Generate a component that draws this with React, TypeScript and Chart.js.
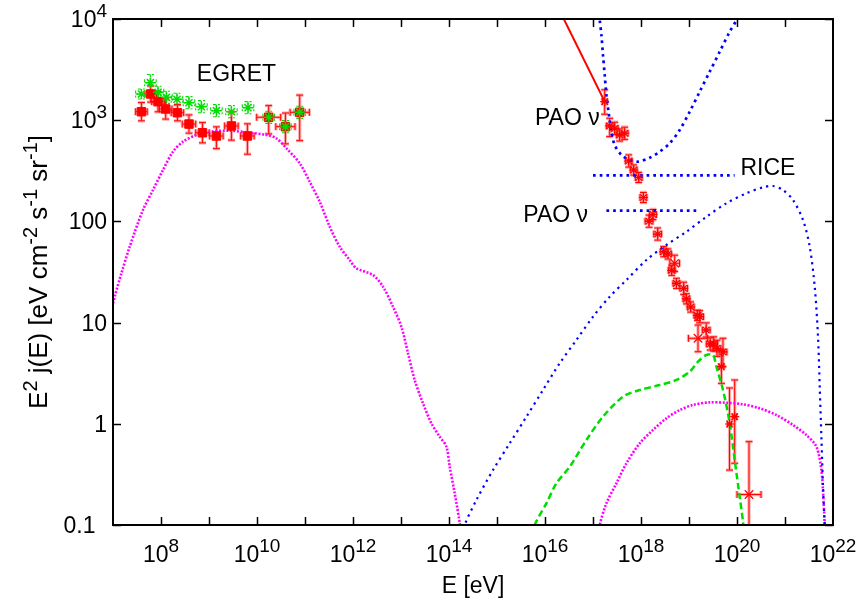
import React, { useEffect, useRef } from "react";
import { Chart, registerables } from "chart.js";

Chart.register(...registerables);

const FONT = '"Liberation Sans", Arial, Helvetica, sans-serif';
const pow10 = (v: number) => Math.pow(10, v);

// All values below are log10(E / eV) and log10(E^2 j(E) / eV cm^-2 s^-1 sr^-1)

// Magenta dotted: low-energy photon cascade curve
const magentaLowLogE = [7.0, 7.035, 7.175, 7.348, 7.625, 7.833, 8.042, 8.25, 8.458, 8.738, 9.015, 9.431, 9.848, 10.196, 10.404, 10.613, 10.89, 11.098, 11.306, 11.515, 11.723, 11.931, 12.069, 12.417, 12.625, 12.833, 13.008, 13.146, 13.285, 13.458, 13.633, 13.806, 13.946, 14.015, 14.119, 14.223, 14.24];
const magentaLowLogF = [1.19, 1.256, 1.487, 1.75, 2.113, 2.31, 2.508, 2.689, 2.788, 2.854, 2.886, 2.896, 2.876, 2.854, 2.821, 2.722, 2.574, 2.392, 2.195, 1.948, 1.75, 1.619, 1.537, 1.47, 1.355, 1.157, 0.96, 0.697, 0.433, 0.203, 0.005, -0.127, -0.226, -0.424, -0.687, -0.983, -1.1];

// Magenta dotted: high-energy curve
const magentaHighLogE = [17.12, 17.14, 17.279, 17.488, 17.696, 17.973, 18.25, 18.529, 18.806, 19.083, 19.431, 19.779, 20.125, 20.473, 20.821, 21.167, 21.446, 21.654, 21.758, 21.806, 21.827, 21.835];
const magentaHighLogF = [-1.1, -1.0, -0.786, -0.588, -0.39, -0.193, -0.061, 0.054, 0.136, 0.186, 0.212, 0.208, 0.193, 0.153, 0.087, -0.012, -0.111, -0.226, -0.457, -0.786, -1.0, -1.1];

// Blue dotted: neutrino flux curve
const blueLogE = [14.3, 14.327, 14.571, 14.917, 15.265, 15.613, 15.958, 16.306, 16.654, 17.0, 17.348, 17.696, 18.113, 18.529, 18.946, 19.363, 19.779, 20.196, 20.542, 20.75, 20.958, 21.167, 21.375, 21.515, 21.619, 21.688, 21.723, 21.758, 21.792, 21.827, 21.835];
const blueLogF = [-1.1, -1.0, -0.753, -0.457, -0.193, 0.07, 0.334, 0.598, 0.828, 1.058, 1.256, 1.421, 1.619, 1.767, 1.898, 2.046, 2.179, 2.278, 2.337, 2.35, 2.31, 2.211, 2.014, 1.75, 1.355, 0.861, 0.367, -0.127, -0.621, -1.0, -1.1];

// Blue dotted: PAO nu limit (U shape)
const paoULogE = [17.13, 17.14, 17.175, 17.208, 17.244, 17.279, 17.333, 17.383, 17.452, 17.592, 17.765, 17.938, 18.181, 18.39, 18.598, 18.806, 19.015, 19.223, 19.431, 19.64, 19.848, 19.988, 20.01];
const paoULogF = [4.05, 3.99, 3.842, 3.644, 3.447, 3.249, 3.051, 2.886, 2.755, 2.656, 2.607, 2.59, 2.629, 2.689, 2.772, 2.903, 3.084, 3.282, 3.479, 3.677, 3.875, 3.99, 4.05];

// Blue dotted horizontal limits
const riceLogE = [17.0, 19.95];
const riceLogF = [2.455, 2.455];
const paoLowLogE = [17.28, 19.21];
const paoLowLogF = [2.106, 2.106];

// Green dashed: cosmic-ray model curve
const greenLogE = [15.75, 15.785, 16.029, 16.238, 16.515, 16.863, 17.208, 17.625, 17.973, 18.39, 18.738, 19.015, 19.188, 19.363, 19.5, 19.571, 19.708, 19.848, 19.952, 20.056, 20.125, 20.14];
const greenLogF = [-1.1, -1.0, -0.786, -0.588, -0.424, -0.16, 0.07, 0.268, 0.334, 0.383, 0.433, 0.515, 0.614, 0.68, 0.68, 0.564, 0.334, 0.005, -0.358, -0.72, -0.967, -1.1];

// Red solid line
const redLineLogE = [16.35, 17.244];
const redLineLogF = [4.04, 3.183];

// EGRET (green asterisks)
const egretGreenLogE = [7.592, 7.779, 7.938, 8.113, 8.333, 8.583, 8.842, 9.154, 9.467, 9.813, 10.244, 10.592, 10.89];
const egretGreenLogF = [3.259, 3.371, 3.276, 3.226, 3.207, 3.173, 3.133, 3.094, 3.084, 3.124, 3.029, 2.936, 3.078];
const egretGreenDx = [0.12, 0.12, 0.12, 0.12, 0.12, 0.12, 0.12, 0.12, 0.12, 0.12, 0.12, 0.12, 0.12];
const egretGreenDy = [0.05, 0.08, 0.06, 0.06, 0.06, 0.06, 0.06, 0.06, 0.06, 0.06, 0.06, 0.06, 0.06];

// EGRET (red squares)
const egretRedLogE = [7.592, 7.785, 7.938, 8.098, 8.342, 8.583, 8.863, 9.154, 9.467, 9.8, 10.244, 10.592, 10.89];
const egretRedLogF = [3.084, 3.259, 3.183, 3.111, 3.074, 2.962, 2.876, 2.844, 2.943, 2.844, 3.029, 2.936, 3.078];
const egretRedDx = [0.12, 0.12, 0.13, 0.13, 0.13, 0.14, 0.14, 0.14, 0.14, 0.14, 0.25, 0.2, 0.2];
const egretRedUp = [0.09, 0.08, 0.1, 0.1, 0.08, 0.09, 0.1, 0.09, 0.14, 0.12, 0.115, 0.135, 0.17];
const egretRedDown = [0.09, 0.08, 0.1, 0.1, 0.08, 0.09, 0.1, 0.125, 0.14, 0.18, 0.165, 0.17, 0.28];

// UHE cosmic-ray data (red asterisks)
const crLogE = [17.244, 17.348, 17.452, 17.556, 17.66, 17.744, 17.848, 17.952, 18.05, 18.25, 18.167, 18.348, 18.473, 18.563, 18.64, 18.738, 18.89, 18.946, 19.035, 19.175, 19.223, 19.358, 19.442, 19.515, 19.583, 19.708, 19.675, 19.844, 19.952];
const crLogF = [3.183, 2.943, 2.92, 2.854, 2.871, 2.597, 2.508, 2.434, 2.236, 2.068, 2.002, 1.875, 1.701, 1.678, 1.517, 1.388, 1.339, 1.235, 1.154, 1.072, 1.058, 0.927, 0.789, 0.789, 0.746, 0.71, 0.564, -0.002, 0.07];
const crDx = [0.05, 0.07, 0.07, 0.07, 0.07, 0.07, 0.07, 0.07, 0.07, 0.07, 0.08, 0.08, 0.07, 0.07, 0.07, 0.07, 0.08, 0.07, 0.07, 0.07, 0.08, 0.08, 0.08, 0.08, 0.08, 0.08, 0.05, 0.04, 0.04];
const crUp = [0.117, 0.076, 0.06, 0.06, 0.06, 0.06, 0.05, 0.05, 0.05, 0.05, 0.06, 0.06, 0.05, 0.05, 0.05, 0.05, 0.06, 0.05, 0.05, 0.05, 0.06, 0.07, 0.06, 0.07, 0.08, 0.135, 0.165, 0.356, 0.363];
const crDown = [0.124, 0.105, 0.06, 0.06, 0.06, 0.06, 0.05, 0.05, 0.05, 0.05, 0.06, 0.06, 0.05, 0.05, 0.05, 0.05, 0.06, 0.05, 0.05, 0.05, 0.06, 0.07, 0.06, 0.07, 0.08, 0.146, 0.164, 0.455, 0.46];

// UHE cosmic-ray data with wide bins
const crWideLogE = [18.702, 19.188, 20.25];
const crWideLogF = [1.586, 0.845, -0.699];
const crWideDx = [0.1, 0.2, 0.25];
const crWideUp = [0.08, 0.131, 0.522];
const crWideDown = [0.08, 0.133, 0.45];

// Axis ticks
const xTickDecades = [8, 9, 10, 11, 12, 13, 14, 15, 16, 17, 18, 19, 20, 21];
const xLabelExps = ["8", "10", "12", "14", "16", "18", "20", "22"];
const yTickValues = [0.1, 1, 10, 100, 1000, 10000];
const yTickMain = ["0.1\u2002", "1", "10", "100", "10", "10"];
const yTickSup = ["", "", "", "", "3", "4"];
const xTitle = "E [eV]";
const yTitleParts: [string, boolean][] = [["E", false], ["2", true], [" j(E) [eV cm", false], ["-2", true], [" s", false], ["-1", true], [" sr", false], ["-1", true], ["]", false]];

// Annotations (log10 positions)
const noteText = ["EGRET", "PAO \u03bd", "PAO \u03bd", "RICE"];
const noteLogE = [9.571, 17.14, 16.896, 20.071];
const noteLogF = [3.39, 2.953, 1.997, 2.458];
const noteAlign = ["center", "right", "right", "left"];

const RED = "#ff0000";
const GREEN = "#00dd00";
const BLUE = "#0000ff";
const MAGENTA = "#ff00ff";

const pts = (es: number[], fs: number[]) => es.map((e, i) => ({ x: pow10(e), y: pow10(fs[i]) }));

function drawRich(ctx: CanvasRenderingContext2D, parts: [string, boolean][], x: number, y: number, align: string, size: number, supSize: number, rise: number) {
  let w = 0;
  for (const [t, s] of parts) {
    ctx.font = `${s ? supSize : size}px ${FONT}`;
    w += ctx.measureText(t).width;
  }
  let cx = align === "center" ? x - w / 2 : align === "right" ? x - w : x;
  ctx.textAlign = "left";
  ctx.textBaseline = "alphabetic";
  for (const [t, s] of parts) {
    ctx.font = `${s ? supSize : size}px ${FONT}`;
    ctx.fillText(t, cx, s ? y - rise : y);
    cx += ctx.measureText(t).width;
  }
}

const errorBarPlugin = {
  id: "errorBars",
  beforeDatasetsDraw(chart: any) {
    const { ctx, chartArea, scales } = chart;
    const xs = scales.x;
    const ys = scales.y;
    ctx.save();
    ctx.beginPath();
    ctx.rect(chartArea.left, chartArea.top, chartArea.right - chartArea.left, chartArea.bottom - chartArea.top);
    ctx.clip();
    chart.data.datasets.forEach((ds: any) => {
      const eb = ds.errorBars;
      if (!eb) return;
      const passes = eb.halo ? [{ c: eb.halo, w: 3.2 }, { c: eb.color, w: 1 }] : [{ c: eb.color, w: 1.1 }];
      passes.forEach((p: any) => {
        ctx.strokeStyle = p.c;
        ctx.lineWidth = p.w;
        ctx.setLineDash(eb.dash || []);
        const cap = 3.5;
        for (let i = 0; i < eb.e.length; i++) {
          const cx = xs.getPixelForValue(pow10(eb.e[i]));
          const cy = ys.getPixelForValue(pow10(eb.f[i]));
          const xl = xs.getPixelForValue(pow10(eb.e[i] - eb.dx[i]));
          const xr = xs.getPixelForValue(pow10(eb.e[i] + eb.dx[i]));
          const yt = ys.getPixelForValue(pow10(eb.f[i] + eb.up[i]));
          const yb = ys.getPixelForValue(pow10(eb.f[i] - eb.down[i]));
          ctx.beginPath();
          ctx.moveTo(xl, cy); ctx.lineTo(xr, cy);
          ctx.moveTo(cx, yt); ctx.lineTo(cx, yb);
          ctx.moveTo(cx - cap, yt); ctx.lineTo(cx + cap, yt);
          ctx.moveTo(cx - cap, yb); ctx.lineTo(cx + cap, yb);
          ctx.moveTo(xl, cy - cap); ctx.lineTo(xl, cy + cap);
          ctx.moveTo(xr, cy - cap); ctx.lineTo(xr, cy + cap);
          ctx.stroke();
        }
      });
    });
    ctx.restore();
  },
};

const framePlugin = {
  id: "frame",
  afterDraw(chart: any) {
    const { ctx, chartArea, scales } = chart;
    const xs = scales.x;
    const ys = scales.y;
    const { left, right, top, bottom } = chartArea;
    ctx.save();
    ctx.setLineDash([]);
    ctx.strokeStyle = "#000";
    ctx.fillStyle = "#000";
    // ticks
    ctx.lineWidth = 1.5;
    ctx.beginPath();
    const tl = 8;
    xTickDecades.forEach((d) => {
      const px = Math.round(xs.getPixelForValue(pow10(d))) + 0.5;
      ctx.moveTo(px, bottom); ctx.lineTo(px, bottom - tl);
      ctx.moveTo(px, top); ctx.lineTo(px, top + tl);
    });
    yTickValues.forEach((v) => {
      const py = Math.round(ys.getPixelForValue(v)) + 0.5;
      ctx.moveTo(left, py); ctx.lineTo(left + tl, py);
      ctx.moveTo(right, py); ctx.lineTo(right - tl, py);
    });
    ctx.stroke();
    // border
    ctx.lineWidth = 2;
    ctx.strokeRect(left, top, right - left, bottom - top);
    // x tick labels
    xLabelExps.forEach((ex) => {
      const px = xs.getPixelForValue(pow10(Number(ex)));
      drawRich(ctx, [["10", false], [ex, true]], px, bottom + 37, "center", 23, 19, 10);
    });
    // y tick labels
    yTickValues.forEach((v, i) => {
      const py = ys.getPixelForValue(v);
      const parts: [string, boolean][] = [[yTickMain[i], false]];
      if (yTickSup[i]) parts.push([yTickSup[i], true]);
      drawRich(ctx, parts, left - 6, py + 8, "right", 23, 19, 10);
    });
    // titles
    drawRich(ctx, [[xTitle, false]], (left + right) / 2, 593, "center", 23, 19, 10);
    ctx.save();
    ctx.translate(47, (top + bottom) / 2);
    ctx.rotate(-Math.PI / 2);
    drawRich(ctx, yTitleParts, 0, 0, "center", 26, 20, 10);
    ctx.restore();
    // annotations
    noteText.forEach((t, i) => {
      const px = xs.getPixelForValue(pow10(noteLogE[i]));
      const py = ys.getPixelForValue(pow10(noteLogF[i]));
      drawRich(ctx, [[t, false]], px, py, noteAlign[i], 23, 19, 10);
    });
    ctx.restore();
  },
};

export default function App() {
  const ref = useRef<HTMLCanvasElement | null>(null);
  useEffect(() => {
    if (!ref.current) return;
    const curve = (data: any, color: string, dash: number[], width: number, tension = 0.3) => ({
      data,
      showLine: true,
      borderColor: color,
      borderWidth: width,
      borderDash: dash,
      pointRadius: 0,
      tension,
      fill: false,
    });
    const chart = new Chart(ref.current, {
      type: "scatter",
      data: {
        datasets: [
          {
            label: "EGRET",
            data: pts(egretGreenLogE, egretGreenLogF),
            showLine: false,
            pointStyle: "star",
            pointRadius: 5,
            borderColor: GREEN,
            borderWidth: 1.5,
            errorBars: { e: egretGreenLogE, f: egretGreenLogF, dx: egretGreenDx, up: egretGreenDy, down: egretGreenDy, color: GREEN, dash: [3, 2] },
          } as any,
          {
            label: "EGRET red",
            data: pts(egretRedLogE, egretRedLogF),
            showLine: false,
            pointStyle: "rect",
            pointRadius: 6,
            backgroundColor: RED,
            borderColor: RED,
            borderWidth: 1,
            errorBars: { e: egretRedLogE, f: egretRedLogF, dx: egretRedDx, up: egretRedUp, down: egretRedDown, color: RED, halo: "rgba(255,60,60,0.45)" },
          } as any,
          {
            label: "UHECR",
            data: pts(crLogE, crLogF),
            showLine: false,
            pointStyle: "star",
            pointRadius: 4.5,
            borderColor: RED,
            borderWidth: 1.2,
            errorBars: { e: crLogE, f: crLogF, dx: crDx, up: crUp, down: crDown, color: RED, halo: "rgba(255,60,60,0.45)" },
          } as any,
          {
            label: "UHECR wide",
            data: pts(crWideLogE, crWideLogF),
            showLine: false,
            pointStyle: "crossRot",
            pointRadius: 6,
            borderColor: RED,
            borderWidth: 1.2,
            errorBars: { e: crWideLogE, f: crWideLogF, dx: crWideDx, up: crWideUp, down: crWideDown, color: RED, halo: "rgba(255,60,60,0.45)" },
          } as any,
          curve(pts(redLineLogE, redLineLogF), RED, [], 2, 0),
          curve(pts(paoULogE, paoULogF), BLUE, [2.7, 4], 2.7),
          curve(pts(riceLogE, riceLogF), BLUE, [2.7, 4], 2.7, 0),
          curve(pts(paoLowLogE, paoLowLogF), BLUE, [2.7, 4], 2.7, 0),
          curve(pts(blueLogE, blueLogF), BLUE, [2.2, 4.3], 2.2),
          curve(pts(greenLogE, greenLogF), GREEN, [6.5, 3.5], 2.5),
          curve(pts(magentaLowLogE, magentaLowLogF), MAGENTA, [2, 1.6], 2.6),
          curve(pts(magentaHighLogE, magentaHighLogF), MAGENTA, [2, 1.6], 2.6),
        ],
      },
      options: {
        animation: false,
        responsive: false,
        maintainAspectRatio: false,
        devicePixelRatio: 1,
        events: [],
        layout: { padding: { left: 113, right: 27, top: 19, bottom: 76 } },
        scales: {
          x: { type: "logarithmic", min: 1e7, max: 1e22, display: false },
          y: { type: "logarithmic", min: 0.1, max: 1e4, display: false },
        },
        plugins: { legend: { display: false }, tooltip: { enabled: false } },
      },
      plugins: [errorBarPlugin, framePlugin],
    } as any);
    return () => chart.destroy();
  }, []);
  return (
    <div style={{ position: "absolute", left: 0, top: 0, width: 860, height: 601, background: "#fff" }}>
      <canvas ref={ref} width={860} height={601} style={{ display: "block", width: 860, height: 601 }} />
    </div>
  );
}
